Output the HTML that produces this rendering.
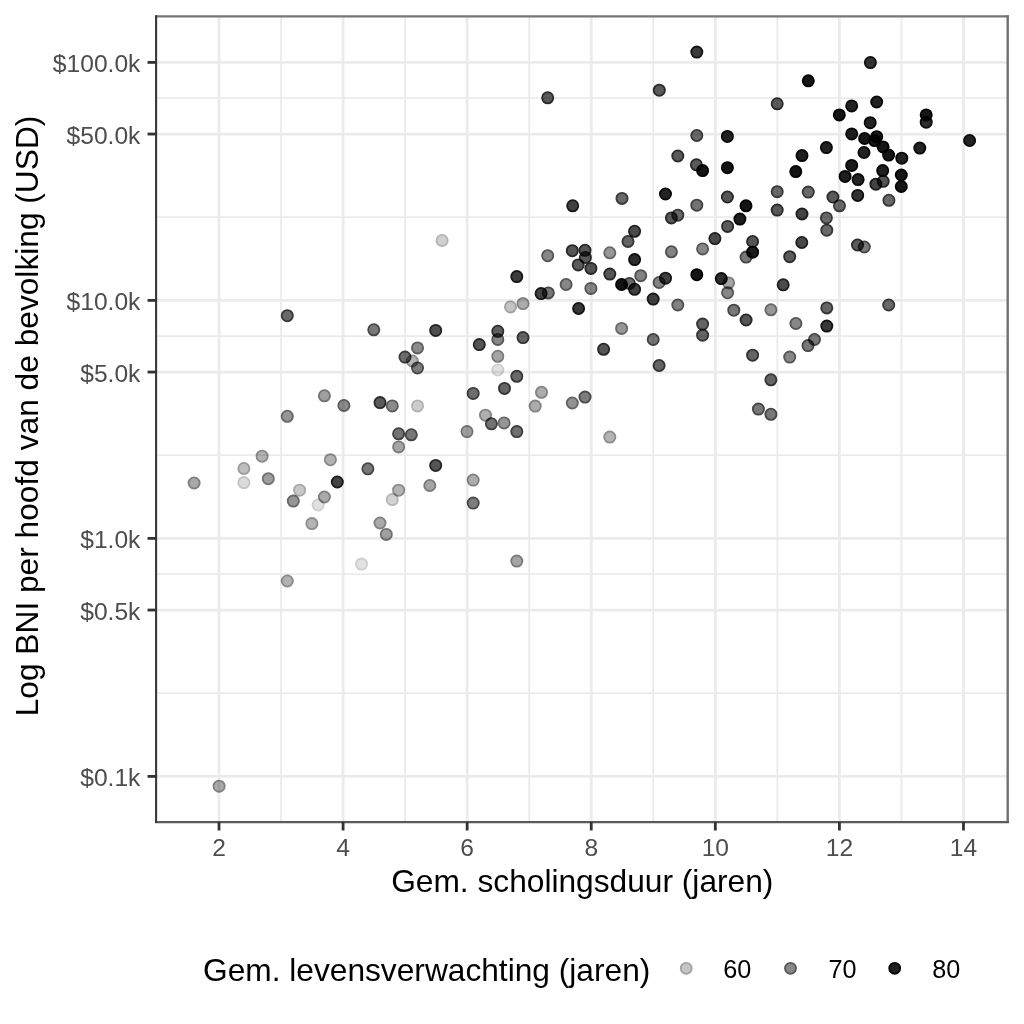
<!DOCTYPE html><html><head><meta charset="utf-8"><style>html,body{margin:0;padding:0;background:#fff;width:1024px;height:1024px;overflow:hidden}svg{display:block}text{font-family:"Liberation Sans",sans-serif}</style></head><body>
<svg width="1024" height="1024" viewBox="0 0 1024 1024">
<rect x="0" y="0" width="1024" height="1024" fill="#fff"/>
<line x1="156.25" x2="1007.7" y1="693.10" y2="693.10" stroke="#ebebeb" stroke-width="1.8"/>
<line x1="156.25" x2="1007.7" y1="574.10" y2="574.10" stroke="#ebebeb" stroke-width="1.8"/>
<line x1="156.25" x2="1007.7" y1="455.10" y2="455.10" stroke="#ebebeb" stroke-width="1.8"/>
<line x1="156.25" x2="1007.7" y1="336.10" y2="336.10" stroke="#ebebeb" stroke-width="1.8"/>
<line x1="156.25" x2="1007.7" y1="217.10" y2="217.10" stroke="#ebebeb" stroke-width="1.8"/>
<line x1="156.25" x2="1007.7" y1="98.10" y2="98.10" stroke="#ebebeb" stroke-width="1.8"/>
<line x1="281.04" x2="281.04" y1="16.4" y2="821.9" stroke="#ebebeb" stroke-width="1.8"/>
<line x1="405.12" x2="405.12" y1="16.4" y2="821.9" stroke="#ebebeb" stroke-width="1.8"/>
<line x1="529.20" x2="529.20" y1="16.4" y2="821.9" stroke="#ebebeb" stroke-width="1.8"/>
<line x1="653.28" x2="653.28" y1="16.4" y2="821.9" stroke="#ebebeb" stroke-width="1.8"/>
<line x1="777.36" x2="777.36" y1="16.4" y2="821.9" stroke="#ebebeb" stroke-width="1.8"/>
<line x1="901.44" x2="901.44" y1="16.4" y2="821.9" stroke="#ebebeb" stroke-width="1.8"/>
<line x1="156.25" x2="1007.7" y1="62.40" y2="62.40" stroke="#ebebeb" stroke-width="2.8"/>
<line x1="156.25" x2="1007.7" y1="134.05" y2="134.05" stroke="#ebebeb" stroke-width="2.8"/>
<line x1="156.25" x2="1007.7" y1="300.40" y2="300.40" stroke="#ebebeb" stroke-width="2.8"/>
<line x1="156.25" x2="1007.7" y1="372.05" y2="372.05" stroke="#ebebeb" stroke-width="2.8"/>
<line x1="156.25" x2="1007.7" y1="538.40" y2="538.40" stroke="#ebebeb" stroke-width="2.8"/>
<line x1="156.25" x2="1007.7" y1="610.05" y2="610.05" stroke="#ebebeb" stroke-width="2.8"/>
<line x1="156.25" x2="1007.7" y1="776.40" y2="776.40" stroke="#ebebeb" stroke-width="2.8"/>
<line x1="219.00" x2="219.00" y1="16.4" y2="821.9" stroke="#ebebeb" stroke-width="2.8"/>
<line x1="343.08" x2="343.08" y1="16.4" y2="821.9" stroke="#ebebeb" stroke-width="2.8"/>
<line x1="467.16" x2="467.16" y1="16.4" y2="821.9" stroke="#ebebeb" stroke-width="2.8"/>
<line x1="591.24" x2="591.24" y1="16.4" y2="821.9" stroke="#ebebeb" stroke-width="2.8"/>
<line x1="715.32" x2="715.32" y1="16.4" y2="821.9" stroke="#ebebeb" stroke-width="2.8"/>
<line x1="839.40" x2="839.40" y1="16.4" y2="821.9" stroke="#ebebeb" stroke-width="2.8"/>
<line x1="963.48" x2="963.48" y1="16.4" y2="821.9" stroke="#ebebeb" stroke-width="2.8"/>
<g>
<circle cx="696.8" cy="52.1" r="5.6" fill="rgb(58,58,58)" stroke="rgb(21,21,21)" stroke-width="1.8" style="mix-blend-mode:multiply"/>
<circle cx="547.7" cy="97.8" r="5.6" fill="rgb(90,90,90)" stroke="rgb(43,43,43)" stroke-width="1.8" style="mix-blend-mode:multiply"/>
<circle cx="659.3" cy="90.2" r="5.6" fill="rgb(90,90,90)" stroke="rgb(43,43,43)" stroke-width="1.8" style="mix-blend-mode:multiply"/>
<circle cx="696.8" cy="135.5" r="5.6" fill="rgb(105,105,105)" stroke="rgb(56,56,56)" stroke-width="1.8" style="mix-blend-mode:multiply"/>
<circle cx="677.8" cy="156.0" r="5.6" fill="rgb(90,90,90)" stroke="rgb(43,43,43)" stroke-width="1.8" style="mix-blend-mode:multiply"/>
<circle cx="696.4" cy="164.8" r="5.6" fill="rgb(90,90,90)" stroke="rgb(43,43,43)" stroke-width="1.8" style="mix-blend-mode:multiply"/>
<circle cx="702.6" cy="170.6" r="5.6" fill="rgb(20,20,20)" stroke="rgb(3,3,3)" stroke-width="1.8" style="mix-blend-mode:multiply"/>
<circle cx="665.5" cy="194.0" r="5.6" fill="rgb(35,35,35)" stroke="rgb(9,9,9)" stroke-width="1.8" style="mix-blend-mode:multiply"/>
<circle cx="622.0" cy="198.4" r="5.6" fill="rgb(105,105,105)" stroke="rgb(56,56,56)" stroke-width="1.8" style="mix-blend-mode:multiply"/>
<circle cx="572.7" cy="205.8" r="5.6" fill="rgb(65,65,65)" stroke="rgb(25,25,25)" stroke-width="1.8" style="mix-blend-mode:multiply"/>
<circle cx="696.8" cy="205.2" r="5.6" fill="rgb(115,115,115)" stroke="rgb(66,66,66)" stroke-width="1.8" style="mix-blend-mode:multiply"/>
<circle cx="677.8" cy="215.2" r="5.6" fill="rgb(105,105,105)" stroke="rgb(56,56,56)" stroke-width="1.8" style="mix-blend-mode:multiply"/>
<circle cx="671.4" cy="217.9" r="5.6" fill="rgb(90,90,90)" stroke="rgb(43,43,43)" stroke-width="1.8" style="mix-blend-mode:multiply"/>
<circle cx="870.4" cy="62.6" r="5.6" fill="rgb(50,50,50)" stroke="rgb(16,16,16)" stroke-width="1.8" style="mix-blend-mode:multiply"/>
<circle cx="808.3" cy="80.8" r="5.6" fill="rgb(22,22,22)" stroke="rgb(4,4,4)" stroke-width="1.8" style="mix-blend-mode:multiply"/>
<circle cx="777.2" cy="103.8" r="5.6" fill="rgb(90,90,90)" stroke="rgb(43,43,43)" stroke-width="1.8" style="mix-blend-mode:multiply"/>
<circle cx="876.7" cy="102.0" r="5.6" fill="rgb(35,35,35)" stroke="rgb(9,9,9)" stroke-width="1.8" style="mix-blend-mode:multiply"/>
<circle cx="851.7" cy="105.9" r="5.6" fill="rgb(35,35,35)" stroke="rgb(9,9,9)" stroke-width="1.8" style="mix-blend-mode:multiply"/>
<circle cx="839.3" cy="114.9" r="5.6" fill="rgb(22,22,22)" stroke="rgb(4,4,4)" stroke-width="1.8" style="mix-blend-mode:multiply"/>
<circle cx="870.2" cy="122.7" r="5.6" fill="rgb(35,35,35)" stroke="rgb(9,9,9)" stroke-width="1.8" style="mix-blend-mode:multiply"/>
<circle cx="727.4" cy="136.4" r="5.6" fill="rgb(35,35,35)" stroke="rgb(9,9,9)" stroke-width="1.8" style="mix-blend-mode:multiply"/>
<circle cx="851.7" cy="133.9" r="5.6" fill="rgb(30,30,30)" stroke="rgb(7,7,7)" stroke-width="1.8" style="mix-blend-mode:multiply"/>
<circle cx="864.6" cy="138.5" r="5.6" fill="rgb(22,22,22)" stroke="rgb(4,4,4)" stroke-width="1.8" style="mix-blend-mode:multiply"/>
<circle cx="876.7" cy="136.7" r="5.6" fill="rgb(25,25,25)" stroke="rgb(5,5,5)" stroke-width="1.8" style="mix-blend-mode:multiply"/>
<circle cx="874.5" cy="140.6" r="5.6" fill="rgb(22,22,22)" stroke="rgb(4,4,4)" stroke-width="1.8" style="mix-blend-mode:multiply"/>
<circle cx="883.1" cy="146.9" r="5.6" fill="rgb(22,22,22)" stroke="rgb(4,4,4)" stroke-width="1.8" style="mix-blend-mode:multiply"/>
<circle cx="888.6" cy="155.1" r="5.6" fill="rgb(22,22,22)" stroke="rgb(4,4,4)" stroke-width="1.8" style="mix-blend-mode:multiply"/>
<circle cx="826.4" cy="147.6" r="5.6" fill="rgb(35,35,35)" stroke="rgb(9,9,9)" stroke-width="1.8" style="mix-blend-mode:multiply"/>
<circle cx="802.0" cy="155.6" r="5.6" fill="rgb(30,30,30)" stroke="rgb(7,7,7)" stroke-width="1.8" style="mix-blend-mode:multiply"/>
<circle cx="864.0" cy="152.5" r="5.6" fill="rgb(35,35,35)" stroke="rgb(9,9,9)" stroke-width="1.8" style="mix-blend-mode:multiply"/>
<circle cx="901.8" cy="158.2" r="5.6" fill="rgb(35,35,35)" stroke="rgb(9,9,9)" stroke-width="1.8" style="mix-blend-mode:multiply"/>
<circle cx="919.8" cy="148.1" r="5.6" fill="rgb(35,35,35)" stroke="rgb(9,9,9)" stroke-width="1.8" style="mix-blend-mode:multiply"/>
<circle cx="727.4" cy="167.7" r="5.6" fill="rgb(20,20,20)" stroke="rgb(3,3,3)" stroke-width="1.8" style="mix-blend-mode:multiply"/>
<circle cx="795.8" cy="171.6" r="5.6" fill="rgb(20,20,20)" stroke="rgb(3,3,3)" stroke-width="1.8" style="mix-blend-mode:multiply"/>
<circle cx="851.7" cy="165.4" r="5.6" fill="rgb(25,25,25)" stroke="rgb(5,5,5)" stroke-width="1.8" style="mix-blend-mode:multiply"/>
<circle cx="845.1" cy="176.4" r="5.6" fill="rgb(30,30,30)" stroke="rgb(7,7,7)" stroke-width="1.8" style="mix-blend-mode:multiply"/>
<circle cx="858.1" cy="179.6" r="5.6" fill="rgb(35,35,35)" stroke="rgb(9,9,9)" stroke-width="1.8" style="mix-blend-mode:multiply"/>
<circle cx="882.7" cy="170.6" r="5.6" fill="rgb(30,30,30)" stroke="rgb(7,7,7)" stroke-width="1.8" style="mix-blend-mode:multiply"/>
<circle cx="901.3" cy="175.0" r="5.6" fill="rgb(22,22,22)" stroke="rgb(4,4,4)" stroke-width="1.8" style="mix-blend-mode:multiply"/>
<circle cx="901.3" cy="186.5" r="5.6" fill="rgb(22,22,22)" stroke="rgb(4,4,4)" stroke-width="1.8" style="mix-blend-mode:multiply"/>
<circle cx="875.9" cy="184.2" r="5.6" fill="rgb(68,68,68)" stroke="rgb(27,27,27)" stroke-width="1.8" style="mix-blend-mode:multiply"/>
<circle cx="883.2" cy="181.3" r="5.6" fill="rgb(85,85,85)" stroke="rgb(39,39,39)" stroke-width="1.8" style="mix-blend-mode:multiply"/>
<circle cx="727.4" cy="197.0" r="5.6" fill="rgb(85,85,85)" stroke="rgb(39,39,39)" stroke-width="1.8" style="mix-blend-mode:multiply"/>
<circle cx="746.0" cy="205.8" r="5.6" fill="rgb(20,20,20)" stroke="rgb(3,3,3)" stroke-width="1.8" style="mix-blend-mode:multiply"/>
<circle cx="777.2" cy="191.7" r="5.6" fill="rgb(105,105,105)" stroke="rgb(56,56,56)" stroke-width="1.8" style="mix-blend-mode:multiply"/>
<circle cx="808.3" cy="192.1" r="5.6" fill="rgb(105,105,105)" stroke="rgb(56,56,56)" stroke-width="1.8" style="mix-blend-mode:multiply"/>
<circle cx="832.9" cy="197.0" r="5.6" fill="rgb(90,90,90)" stroke="rgb(43,43,43)" stroke-width="1.8" style="mix-blend-mode:multiply"/>
<circle cx="839.5" cy="205.8" r="5.6" fill="rgb(105,105,105)" stroke="rgb(56,56,56)" stroke-width="1.8" style="mix-blend-mode:multiply"/>
<circle cx="857.7" cy="195.4" r="5.6" fill="rgb(50,50,50)" stroke="rgb(16,16,16)" stroke-width="1.8" style="mix-blend-mode:multiply"/>
<circle cx="888.9" cy="200.3" r="5.6" fill="rgb(105,105,105)" stroke="rgb(56,56,56)" stroke-width="1.8" style="mix-blend-mode:multiply"/>
<circle cx="777.2" cy="210.1" r="5.6" fill="rgb(90,90,90)" stroke="rgb(43,43,43)" stroke-width="1.8" style="mix-blend-mode:multiply"/>
<circle cx="802.0" cy="214.0" r="5.6" fill="rgb(68,68,68)" stroke="rgb(27,27,27)" stroke-width="1.8" style="mix-blend-mode:multiply"/>
<circle cx="739.9" cy="219.1" r="5.6" fill="rgb(30,30,30)" stroke="rgb(7,7,7)" stroke-width="1.8" style="mix-blend-mode:multiply"/>
<circle cx="826.4" cy="217.9" r="5.6" fill="rgb(105,105,105)" stroke="rgb(56,56,56)" stroke-width="1.8" style="mix-blend-mode:multiply"/>
<circle cx="926.2" cy="114.9" r="5.6" fill="rgb(22,22,22)" stroke="rgb(4,4,4)" stroke-width="1.8" style="mix-blend-mode:multiply"/>
<circle cx="926.2" cy="122.2" r="5.6" fill="rgb(45,45,45)" stroke="rgb(13,13,13)" stroke-width="1.8" style="mix-blend-mode:multiply"/>
<circle cx="969.6" cy="140.5" r="5.6" fill="rgb(35,35,35)" stroke="rgb(9,9,9)" stroke-width="1.8" style="mix-blend-mode:multiply"/>
<circle cx="634.6" cy="231.3" r="5.6" fill="rgb(75,75,75)" stroke="rgb(32,32,32)" stroke-width="1.8" style="mix-blend-mode:multiply"/>
<circle cx="628.0" cy="241.5" r="5.6" fill="rgb(100,100,100)" stroke="rgb(52,52,52)" stroke-width="1.8" style="mix-blend-mode:multiply"/>
<circle cx="547.7" cy="255.7" r="5.6" fill="rgb(135,135,135)" stroke="rgb(86,86,86)" stroke-width="1.8" style="mix-blend-mode:multiply"/>
<circle cx="572.3" cy="250.7" r="5.6" fill="rgb(85,85,85)" stroke="rgb(39,39,39)" stroke-width="1.8" style="mix-blend-mode:multiply"/>
<circle cx="585.0" cy="250.3" r="5.6" fill="rgb(85,85,85)" stroke="rgb(39,39,39)" stroke-width="1.8" style="mix-blend-mode:multiply"/>
<circle cx="585.4" cy="257.5" r="5.6" fill="rgb(90,90,90)" stroke="rgb(43,43,43)" stroke-width="1.8" style="mix-blend-mode:multiply"/>
<circle cx="578.2" cy="264.9" r="5.6" fill="rgb(90,90,90)" stroke="rgb(43,43,43)" stroke-width="1.8" style="mix-blend-mode:multiply"/>
<circle cx="590.9" cy="268.4" r="5.6" fill="rgb(85,85,85)" stroke="rgb(39,39,39)" stroke-width="1.8" style="mix-blend-mode:multiply"/>
<circle cx="609.8" cy="252.8" r="5.6" fill="rgb(150,150,150)" stroke="rgb(103,103,103)" stroke-width="1.8" style="mix-blend-mode:multiply"/>
<circle cx="634.6" cy="259.6" r="5.6" fill="rgb(45,45,45)" stroke="rgb(13,13,13)" stroke-width="1.8" style="mix-blend-mode:multiply"/>
<circle cx="609.8" cy="274.1" r="5.6" fill="rgb(85,85,85)" stroke="rgb(39,39,39)" stroke-width="1.8" style="mix-blend-mode:multiply"/>
<circle cx="640.7" cy="275.7" r="5.6" fill="rgb(130,130,130)" stroke="rgb(81,81,81)" stroke-width="1.8" style="mix-blend-mode:multiply"/>
<circle cx="621.6" cy="284.5" r="5.6" fill="rgb(20,20,20)" stroke="rgb(3,3,3)" stroke-width="1.8" style="mix-blend-mode:multiply"/>
<circle cx="629.4" cy="283.5" r="5.6" fill="rgb(105,105,105)" stroke="rgb(56,56,56)" stroke-width="1.8" style="mix-blend-mode:multiply"/>
<circle cx="634.6" cy="289.3" r="5.6" fill="rgb(65,65,65)" stroke="rgb(25,25,25)" stroke-width="1.8" style="mix-blend-mode:multiply"/>
<circle cx="566.1" cy="284.5" r="5.6" fill="rgb(135,135,135)" stroke="rgb(86,86,86)" stroke-width="1.8" style="mix-blend-mode:multiply"/>
<circle cx="590.9" cy="288.4" r="5.6" fill="rgb(135,135,135)" stroke="rgb(86,86,86)" stroke-width="1.8" style="mix-blend-mode:multiply"/>
<circle cx="541.1" cy="293.6" r="5.6" fill="rgb(65,65,65)" stroke="rgb(25,25,25)" stroke-width="1.8" style="mix-blend-mode:multiply"/>
<circle cx="548.3" cy="292.9" r="5.6" fill="rgb(120,120,120)" stroke="rgb(71,71,71)" stroke-width="1.8" style="mix-blend-mode:multiply"/>
<circle cx="671.4" cy="251.8" r="5.6" fill="rgb(130,130,130)" stroke="rgb(81,81,81)" stroke-width="1.8" style="mix-blend-mode:multiply"/>
<circle cx="702.6" cy="248.9" r="5.6" fill="rgb(135,135,135)" stroke="rgb(86,86,86)" stroke-width="1.8" style="mix-blend-mode:multiply"/>
<circle cx="714.9" cy="238.6" r="5.6" fill="rgb(75,75,75)" stroke="rgb(32,32,32)" stroke-width="1.8" style="mix-blend-mode:multiply"/>
<circle cx="696.8" cy="274.7" r="5.6" fill="rgb(20,20,20)" stroke="rgb(3,3,3)" stroke-width="1.8" style="mix-blend-mode:multiply"/>
<circle cx="665.5" cy="278.2" r="5.6" fill="rgb(65,65,65)" stroke="rgb(25,25,25)" stroke-width="1.8" style="mix-blend-mode:multiply"/>
<circle cx="659.1" cy="282.5" r="5.6" fill="rgb(130,130,130)" stroke="rgb(81,81,81)" stroke-width="1.8" style="mix-blend-mode:multiply"/>
<circle cx="653.2" cy="299.1" r="5.6" fill="rgb(65,65,65)" stroke="rgb(25,25,25)" stroke-width="1.8" style="mix-blend-mode:multiply"/>
<circle cx="677.8" cy="305.0" r="5.6" fill="rgb(130,130,130)" stroke="rgb(81,81,81)" stroke-width="1.8" style="mix-blend-mode:multiply"/>
<circle cx="578.6" cy="308.5" r="5.6" fill="rgb(55,55,55)" stroke="rgb(19,19,19)" stroke-width="1.8" style="mix-blend-mode:multiply"/>
<circle cx="621.6" cy="328.4" r="5.6" fill="rgb(150,150,150)" stroke="rgb(103,103,103)" stroke-width="1.8" style="mix-blend-mode:multiply"/>
<circle cx="702.6" cy="324.1" r="5.6" fill="rgb(100,100,100)" stroke="rgb(52,52,52)" stroke-width="1.8" style="mix-blend-mode:multiply"/>
<circle cx="702.6" cy="335.2" r="5.6" fill="rgb(100,100,100)" stroke="rgb(52,52,52)" stroke-width="1.8" style="mix-blend-mode:multiply"/>
<circle cx="653.2" cy="339.5" r="5.6" fill="rgb(115,115,115)" stroke="rgb(66,66,66)" stroke-width="1.8" style="mix-blend-mode:multiply"/>
<circle cx="603.6" cy="349.3" r="5.6" fill="rgb(85,85,85)" stroke="rgb(39,39,39)" stroke-width="1.8" style="mix-blend-mode:multiply"/>
<circle cx="659.1" cy="365.5" r="5.6" fill="rgb(100,100,100)" stroke="rgb(52,52,52)" stroke-width="1.8" style="mix-blend-mode:multiply"/>
<circle cx="541.5" cy="392.3" r="5.6" fill="rgb(172,172,172)" stroke="rgb(131,131,131)" stroke-width="1.8" style="mix-blend-mode:multiply"/>
<circle cx="535.2" cy="406.1" r="5.6" fill="rgb(172,172,172)" stroke="rgb(131,131,131)" stroke-width="1.8" style="mix-blend-mode:multiply"/>
<circle cx="572.3" cy="403.0" r="5.6" fill="rgb(145,145,145)" stroke="rgb(98,98,98)" stroke-width="1.8" style="mix-blend-mode:multiply"/>
<circle cx="585.0" cy="397.1" r="5.6" fill="rgb(125,125,125)" stroke="rgb(76,76,76)" stroke-width="1.8" style="mix-blend-mode:multiply"/>
<circle cx="727.6" cy="226.4" r="5.6" fill="rgb(90,90,90)" stroke="rgb(43,43,43)" stroke-width="1.8" style="mix-blend-mode:multiply"/>
<circle cx="752.6" cy="241.5" r="5.6" fill="rgb(85,85,85)" stroke="rgb(39,39,39)" stroke-width="1.8" style="mix-blend-mode:multiply"/>
<circle cx="752.6" cy="252.2" r="5.6" fill="rgb(28,28,28)" stroke="rgb(6,6,6)" stroke-width="1.8" style="mix-blend-mode:multiply"/>
<circle cx="746.1" cy="257.1" r="5.6" fill="rgb(120,120,120)" stroke="rgb(71,71,71)" stroke-width="1.8" style="mix-blend-mode:multiply"/>
<circle cx="801.8" cy="242.5" r="5.6" fill="rgb(72,72,72)" stroke="rgb(30,30,30)" stroke-width="1.8" style="mix-blend-mode:multiply"/>
<circle cx="789.7" cy="256.7" r="5.6" fill="rgb(90,90,90)" stroke="rgb(43,43,43)" stroke-width="1.8" style="mix-blend-mode:multiply"/>
<circle cx="826.8" cy="230.2" r="5.6" fill="rgb(105,105,105)" stroke="rgb(56,56,56)" stroke-width="1.8" style="mix-blend-mode:multiply"/>
<circle cx="857.5" cy="245.0" r="5.6" fill="rgb(90,90,90)" stroke="rgb(43,43,43)" stroke-width="1.8" style="mix-blend-mode:multiply"/>
<circle cx="864.3" cy="247.0" r="5.6" fill="rgb(120,120,120)" stroke="rgb(71,71,71)" stroke-width="1.8" style="mix-blend-mode:multiply"/>
<circle cx="721.3" cy="278.6" r="5.6" fill="rgb(45,45,45)" stroke="rgb(13,13,13)" stroke-width="1.8" style="mix-blend-mode:multiply"/>
<circle cx="728.6" cy="282.9" r="5.6" fill="rgb(165,165,165)" stroke="rgb(122,122,122)" stroke-width="1.8" style="mix-blend-mode:multiply"/>
<circle cx="727.6" cy="292.7" r="5.6" fill="rgb(135,135,135)" stroke="rgb(86,86,86)" stroke-width="1.8" style="mix-blend-mode:multiply"/>
<circle cx="783.2" cy="284.8" r="5.6" fill="rgb(75,75,75)" stroke="rgb(32,32,32)" stroke-width="1.8" style="mix-blend-mode:multiply"/>
<circle cx="733.8" cy="310.2" r="5.6" fill="rgb(120,120,120)" stroke="rgb(71,71,71)" stroke-width="1.8" style="mix-blend-mode:multiply"/>
<circle cx="770.9" cy="309.8" r="5.6" fill="rgb(150,150,150)" stroke="rgb(103,103,103)" stroke-width="1.8" style="mix-blend-mode:multiply"/>
<circle cx="746.1" cy="320.0" r="5.6" fill="rgb(85,85,85)" stroke="rgb(39,39,39)" stroke-width="1.8" style="mix-blend-mode:multiply"/>
<circle cx="826.8" cy="307.9" r="5.6" fill="rgb(100,100,100)" stroke="rgb(52,52,52)" stroke-width="1.8" style="mix-blend-mode:multiply"/>
<circle cx="888.7" cy="305.0" r="5.6" fill="rgb(105,105,105)" stroke="rgb(56,56,56)" stroke-width="1.8" style="mix-blend-mode:multiply"/>
<circle cx="795.9" cy="323.5" r="5.6" fill="rgb(135,135,135)" stroke="rgb(86,86,86)" stroke-width="1.8" style="mix-blend-mode:multiply"/>
<circle cx="826.8" cy="326.1" r="5.6" fill="rgb(55,55,55)" stroke="rgb(19,19,19)" stroke-width="1.8" style="mix-blend-mode:multiply"/>
<circle cx="814.5" cy="339.5" r="5.6" fill="rgb(120,120,120)" stroke="rgb(71,71,71)" stroke-width="1.8" style="mix-blend-mode:multiply"/>
<circle cx="808.0" cy="345.6" r="5.6" fill="rgb(120,120,120)" stroke="rgb(71,71,71)" stroke-width="1.8" style="mix-blend-mode:multiply"/>
<circle cx="752.6" cy="355.2" r="5.6" fill="rgb(100,100,100)" stroke="rgb(52,52,52)" stroke-width="1.8" style="mix-blend-mode:multiply"/>
<circle cx="789.7" cy="357.1" r="5.6" fill="rgb(135,135,135)" stroke="rgb(86,86,86)" stroke-width="1.8" style="mix-blend-mode:multiply"/>
<circle cx="770.9" cy="379.8" r="5.6" fill="rgb(100,100,100)" stroke="rgb(52,52,52)" stroke-width="1.8" style="mix-blend-mode:multiply"/>
<circle cx="758.4" cy="409.1" r="5.6" fill="rgb(120,120,120)" stroke="rgb(71,71,71)" stroke-width="1.8" style="mix-blend-mode:multiply"/>
<circle cx="770.9" cy="414.3" r="5.6" fill="rgb(120,120,120)" stroke="rgb(71,71,71)" stroke-width="1.8" style="mix-blend-mode:multiply"/>
<circle cx="442.1" cy="240.5" r="5.6" fill="rgb(208,208,208)" stroke="rgb(180,180,180)" stroke-width="1.8" style="mix-blend-mode:multiply"/>
<circle cx="516.8" cy="276.6" r="5.6" fill="rgb(60,60,60)" stroke="rgb(22,22,22)" stroke-width="1.8" style="mix-blend-mode:multiply"/>
<circle cx="510.5" cy="306.9" r="5.6" fill="rgb(195,195,195)" stroke="rgb(162,162,162)" stroke-width="1.8" style="mix-blend-mode:multiply"/>
<circle cx="523.0" cy="303.6" r="5.6" fill="rgb(172,172,172)" stroke="rgb(131,131,131)" stroke-width="1.8" style="mix-blend-mode:multiply"/>
<circle cx="373.8" cy="329.8" r="5.6" fill="rgb(120,120,120)" stroke="rgb(71,71,71)" stroke-width="1.8" style="mix-blend-mode:multiply"/>
<circle cx="435.7" cy="330.4" r="5.6" fill="rgb(80,80,80)" stroke="rgb(36,36,36)" stroke-width="1.8" style="mix-blend-mode:multiply"/>
<circle cx="497.8" cy="331.3" r="5.6" fill="rgb(95,95,95)" stroke="rgb(48,48,48)" stroke-width="1.8" style="mix-blend-mode:multiply"/>
<circle cx="497.8" cy="339.5" r="5.6" fill="rgb(135,135,135)" stroke="rgb(86,86,86)" stroke-width="1.8" style="mix-blend-mode:multiply"/>
<circle cx="523.0" cy="337.6" r="5.6" fill="rgb(100,100,100)" stroke="rgb(52,52,52)" stroke-width="1.8" style="mix-blend-mode:multiply"/>
<circle cx="479.3" cy="344.6" r="5.6" fill="rgb(85,85,85)" stroke="rgb(39,39,39)" stroke-width="1.8" style="mix-blend-mode:multiply"/>
<circle cx="417.5" cy="347.9" r="5.6" fill="rgb(140,140,140)" stroke="rgb(92,92,92)" stroke-width="1.8" style="mix-blend-mode:multiply"/>
<circle cx="405.0" cy="357.1" r="5.6" fill="rgb(110,110,110)" stroke="rgb(61,61,61)" stroke-width="1.8" style="mix-blend-mode:multiply"/>
<circle cx="412.3" cy="361.0" r="5.6" fill="rgb(180,180,180)" stroke="rgb(141,141,141)" stroke-width="1.8" style="mix-blend-mode:multiply"/>
<circle cx="417.5" cy="368.0" r="5.6" fill="rgb(125,125,125)" stroke="rgb(76,76,76)" stroke-width="1.8" style="mix-blend-mode:multiply"/>
<circle cx="497.8" cy="356.3" r="5.6" fill="rgb(165,165,165)" stroke="rgb(122,122,122)" stroke-width="1.8" style="mix-blend-mode:multiply"/>
<circle cx="497.8" cy="370.0" r="5.6" fill="rgb(225,225,225)" stroke="rgb(206,206,206)" stroke-width="1.8" style="mix-blend-mode:multiply"/>
<circle cx="516.8" cy="376.3" r="5.6" fill="rgb(105,105,105)" stroke="rgb(56,56,56)" stroke-width="1.8" style="mix-blend-mode:multiply"/>
<circle cx="504.5" cy="388.4" r="5.6" fill="rgb(100,100,100)" stroke="rgb(52,52,52)" stroke-width="1.8" style="mix-blend-mode:multiply"/>
<circle cx="473.2" cy="393.4" r="5.6" fill="rgb(110,110,110)" stroke="rgb(61,61,61)" stroke-width="1.8" style="mix-blend-mode:multiply"/>
<circle cx="343.9" cy="405.5" r="5.6" fill="rgb(140,140,140)" stroke="rgb(92,92,92)" stroke-width="1.8" style="mix-blend-mode:multiply"/>
<circle cx="380.0" cy="402.6" r="5.6" fill="rgb(90,90,90)" stroke="rgb(43,43,43)" stroke-width="1.8" style="mix-blend-mode:multiply"/>
<circle cx="392.3" cy="405.9" r="5.6" fill="rgb(140,140,140)" stroke="rgb(92,92,92)" stroke-width="1.8" style="mix-blend-mode:multiply"/>
<circle cx="417.5" cy="405.9" r="5.6" fill="rgb(205,205,205)" stroke="rgb(176,176,176)" stroke-width="1.8" style="mix-blend-mode:multiply"/>
<circle cx="485.5" cy="415.2" r="5.6" fill="rgb(175,175,175)" stroke="rgb(134,134,134)" stroke-width="1.8" style="mix-blend-mode:multiply"/>
<circle cx="491.4" cy="423.8" r="5.6" fill="rgb(115,115,115)" stroke="rgb(66,66,66)" stroke-width="1.8" style="mix-blend-mode:multiply"/>
<circle cx="504.1" cy="422.9" r="5.6" fill="rgb(150,150,150)" stroke="rgb(103,103,103)" stroke-width="1.8" style="mix-blend-mode:multiply"/>
<circle cx="516.8" cy="431.6" r="5.6" fill="rgb(110,110,110)" stroke="rgb(61,61,61)" stroke-width="1.8" style="mix-blend-mode:multiply"/>
<circle cx="467.0" cy="431.6" r="5.6" fill="rgb(160,160,160)" stroke="rgb(115,115,115)" stroke-width="1.8" style="mix-blend-mode:multiply"/>
<circle cx="398.6" cy="433.8" r="5.6" fill="rgb(115,115,115)" stroke="rgb(66,66,66)" stroke-width="1.8" style="mix-blend-mode:multiply"/>
<circle cx="411.3" cy="434.8" r="5.6" fill="rgb(120,120,120)" stroke="rgb(71,71,71)" stroke-width="1.8" style="mix-blend-mode:multiply"/>
<circle cx="398.6" cy="446.9" r="5.6" fill="rgb(165,165,165)" stroke="rgb(122,122,122)" stroke-width="1.8" style="mix-blend-mode:multiply"/>
<circle cx="367.9" cy="468.8" r="5.6" fill="rgb(120,120,120)" stroke="rgb(71,71,71)" stroke-width="1.8" style="mix-blend-mode:multiply"/>
<circle cx="435.7" cy="465.4" r="5.6" fill="rgb(85,85,85)" stroke="rgb(39,39,39)" stroke-width="1.8" style="mix-blend-mode:multiply"/>
<circle cx="429.8" cy="485.5" r="5.6" fill="rgb(165,165,165)" stroke="rgb(122,122,122)" stroke-width="1.8" style="mix-blend-mode:multiply"/>
<circle cx="398.6" cy="490.2" r="5.6" fill="rgb(180,180,180)" stroke="rgb(141,141,141)" stroke-width="1.8" style="mix-blend-mode:multiply"/>
<circle cx="392.3" cy="499.6" r="5.6" fill="rgb(210,210,210)" stroke="rgb(183,183,183)" stroke-width="1.8" style="mix-blend-mode:multiply"/>
<circle cx="473.2" cy="480.1" r="5.6" fill="rgb(172,172,172)" stroke="rgb(131,131,131)" stroke-width="1.8" style="mix-blend-mode:multiply"/>
<circle cx="473.2" cy="503.1" r="5.6" fill="rgb(125,125,125)" stroke="rgb(76,76,76)" stroke-width="1.8" style="mix-blend-mode:multiply"/>
<circle cx="380.0" cy="523.0" r="5.6" fill="rgb(170,170,170)" stroke="rgb(128,128,128)" stroke-width="1.8" style="mix-blend-mode:multiply"/>
<circle cx="386.3" cy="534.4" r="5.6" fill="rgb(160,160,160)" stroke="rgb(115,115,115)" stroke-width="1.8" style="mix-blend-mode:multiply"/>
<circle cx="361.5" cy="564.1" r="5.6" fill="rgb(225,225,225)" stroke="rgb(206,206,206)" stroke-width="1.8" style="mix-blend-mode:multiply"/>
<circle cx="516.8" cy="561.1" r="5.6" fill="rgb(165,165,165)" stroke="rgb(122,122,122)" stroke-width="1.8" style="mix-blend-mode:multiply"/>
<circle cx="287.3" cy="315.7" r="5.6" fill="rgb(105,105,105)" stroke="rgb(56,56,56)" stroke-width="1.8" style="mix-blend-mode:multiply"/>
<circle cx="324.4" cy="395.8" r="5.6" fill="rgb(160,160,160)" stroke="rgb(115,115,115)" stroke-width="1.8" style="mix-blend-mode:multiply"/>
<circle cx="287.3" cy="416.3" r="5.6" fill="rgb(150,150,150)" stroke="rgb(103,103,103)" stroke-width="1.8" style="mix-blend-mode:multiply"/>
<circle cx="262.1" cy="456.2" r="5.6" fill="rgb(178,178,178)" stroke="rgb(138,138,138)" stroke-width="1.8" style="mix-blend-mode:multiply"/>
<circle cx="243.9" cy="468.5" r="5.6" fill="rgb(190,190,190)" stroke="rgb(155,155,155)" stroke-width="1.8" style="mix-blend-mode:multiply"/>
<circle cx="330.4" cy="459.7" r="5.6" fill="rgb(178,178,178)" stroke="rgb(138,138,138)" stroke-width="1.8" style="mix-blend-mode:multiply"/>
<circle cx="194.1" cy="483.0" r="5.6" fill="rgb(168,168,168)" stroke="rgb(125,125,125)" stroke-width="1.8" style="mix-blend-mode:multiply"/>
<circle cx="243.9" cy="482.6" r="5.6" fill="rgb(218,218,218)" stroke="rgb(195,195,195)" stroke-width="1.8" style="mix-blend-mode:multiply"/>
<circle cx="268.3" cy="478.7" r="5.6" fill="rgb(158,158,158)" stroke="rgb(113,113,113)" stroke-width="1.8" style="mix-blend-mode:multiply"/>
<circle cx="337.3" cy="482.0" r="5.6" fill="rgb(68,68,68)" stroke="rgb(27,27,27)" stroke-width="1.8" style="mix-blend-mode:multiply"/>
<circle cx="299.6" cy="490.2" r="5.6" fill="rgb(200,200,200)" stroke="rgb(169,169,169)" stroke-width="1.8" style="mix-blend-mode:multiply"/>
<circle cx="324.4" cy="497.0" r="5.6" fill="rgb(170,170,170)" stroke="rgb(128,128,128)" stroke-width="1.8" style="mix-blend-mode:multiply"/>
<circle cx="293.3" cy="501.1" r="5.6" fill="rgb(150,150,150)" stroke="rgb(103,103,103)" stroke-width="1.8" style="mix-blend-mode:multiply"/>
<circle cx="318.1" cy="505.0" r="5.6" fill="rgb(225,225,225)" stroke="rgb(206,206,206)" stroke-width="1.8" style="mix-blend-mode:multiply"/>
<circle cx="311.9" cy="523.6" r="5.6" fill="rgb(180,180,180)" stroke="rgb(141,141,141)" stroke-width="1.8" style="mix-blend-mode:multiply"/>
<circle cx="287.3" cy="581.0" r="5.6" fill="rgb(178,178,178)" stroke="rgb(138,138,138)" stroke-width="1.8" style="mix-blend-mode:multiply"/>
<circle cx="219.1" cy="786.2" r="5.6" fill="rgb(172,172,172)" stroke="rgb(131,131,131)" stroke-width="1.8" style="mix-blend-mode:multiply"/>
<circle cx="609.8" cy="437.1" r="5.6" fill="rgb(180,180,180)" stroke="rgb(141,141,141)" stroke-width="1.8" style="mix-blend-mode:multiply"/>
</g>
<line x1="155.25" x2="1008.9000000000001" y1="16.35" y2="16.35" stroke="#767676" stroke-width="2.4"/>
<line x1="1007.7" x2="1007.7" y1="15.2" y2="823.0" stroke="#707070" stroke-width="2.4"/>
<line x1="155.25" x2="1008.9000000000001" y1="822.1" y2="822.1" stroke="#5a5a5a" stroke-width="2.2"/>
<line x1="156.1" x2="156.1" y1="15.2" y2="823.0" stroke="#383838" stroke-width="2.1"/>
<line x1="147.55" x2="156.25" y1="62.40" y2="62.40" stroke="#333" stroke-width="2.8"/>
<text x="140.4" y="72.20" font-size="24.6" fill="#4d4d4d" text-anchor="end">$100.0k</text>
<line x1="147.55" x2="156.25" y1="134.05" y2="134.05" stroke="#333" stroke-width="2.8"/>
<text x="140.4" y="143.85" font-size="24.6" fill="#4d4d4d" text-anchor="end">$50.0k</text>
<line x1="147.55" x2="156.25" y1="300.40" y2="300.40" stroke="#333" stroke-width="2.8"/>
<text x="140.4" y="310.20" font-size="24.6" fill="#4d4d4d" text-anchor="end">$10.0k</text>
<line x1="147.55" x2="156.25" y1="372.05" y2="372.05" stroke="#333" stroke-width="2.8"/>
<text x="140.4" y="381.85" font-size="24.6" fill="#4d4d4d" text-anchor="end">$5.0k</text>
<line x1="147.55" x2="156.25" y1="538.40" y2="538.40" stroke="#333" stroke-width="2.8"/>
<text x="140.4" y="548.20" font-size="24.6" fill="#4d4d4d" text-anchor="end">$1.0k</text>
<line x1="147.55" x2="156.25" y1="610.05" y2="610.05" stroke="#333" stroke-width="2.8"/>
<text x="140.4" y="619.85" font-size="24.6" fill="#4d4d4d" text-anchor="end">$0.5k</text>
<line x1="147.55" x2="156.25" y1="776.40" y2="776.40" stroke="#333" stroke-width="2.8"/>
<text x="140.4" y="786.20" font-size="24.6" fill="#4d4d4d" text-anchor="end">$0.1k</text>
<line x1="219.00" x2="219.00" y1="821.9" y2="830.50" stroke="#333" stroke-width="2.8"/>
<text x="219.00" y="856.2" font-size="24.6" fill="#4d4d4d" text-anchor="middle">2</text>
<line x1="343.08" x2="343.08" y1="821.9" y2="830.50" stroke="#333" stroke-width="2.8"/>
<text x="343.08" y="856.2" font-size="24.6" fill="#4d4d4d" text-anchor="middle">4</text>
<line x1="467.16" x2="467.16" y1="821.9" y2="830.50" stroke="#333" stroke-width="2.8"/>
<text x="467.16" y="856.2" font-size="24.6" fill="#4d4d4d" text-anchor="middle">6</text>
<line x1="591.24" x2="591.24" y1="821.9" y2="830.50" stroke="#333" stroke-width="2.8"/>
<text x="591.24" y="856.2" font-size="24.6" fill="#4d4d4d" text-anchor="middle">8</text>
<line x1="715.32" x2="715.32" y1="821.9" y2="830.50" stroke="#333" stroke-width="2.8"/>
<text x="715.32" y="856.2" font-size="24.6" fill="#4d4d4d" text-anchor="middle">10</text>
<line x1="839.40" x2="839.40" y1="821.9" y2="830.50" stroke="#333" stroke-width="2.8"/>
<text x="839.40" y="856.2" font-size="24.6" fill="#4d4d4d" text-anchor="middle">12</text>
<line x1="963.48" x2="963.48" y1="821.9" y2="830.50" stroke="#333" stroke-width="2.8"/>
<text x="963.48" y="856.2" font-size="24.6" fill="#4d4d4d" text-anchor="middle">14</text>
<text x="582.3" y="892.0" font-size="31.7" fill="#000" text-anchor="middle">Gem. scholingsduur (jaren)</text>
<text transform="translate(37.7,416) rotate(-90)" x="0" y="0" font-size="31.7" fill="#000" text-anchor="middle">Log BNI per hoofd van de bevolking (USD)</text>
<text x="203" y="980.7" font-size="31.7" fill="#000">Gem. levensverwachting (jaren)</text>
<circle cx="686.2" cy="968.3" r="5.5" fill="rgb(196,196,196)" stroke="rgb(163,163,163)" stroke-width="1.8"/>
<text x="723.2" y="977.5" font-size="25.2" fill="#000">60</text>
<circle cx="790.5" cy="968.3" r="5.5" fill="rgb(136,136,136)" stroke="rgb(88,88,88)" stroke-width="1.8"/>
<text x="828.4" y="977.5" font-size="25.2" fill="#000">70</text>
<circle cx="894.7" cy="968.3" r="5.5" fill="rgb(32,32,32)" stroke="rgb(7,7,7)" stroke-width="1.8"/>
<text x="932.3" y="977.5" font-size="25.2" fill="#000">80</text>
</svg></body></html>
